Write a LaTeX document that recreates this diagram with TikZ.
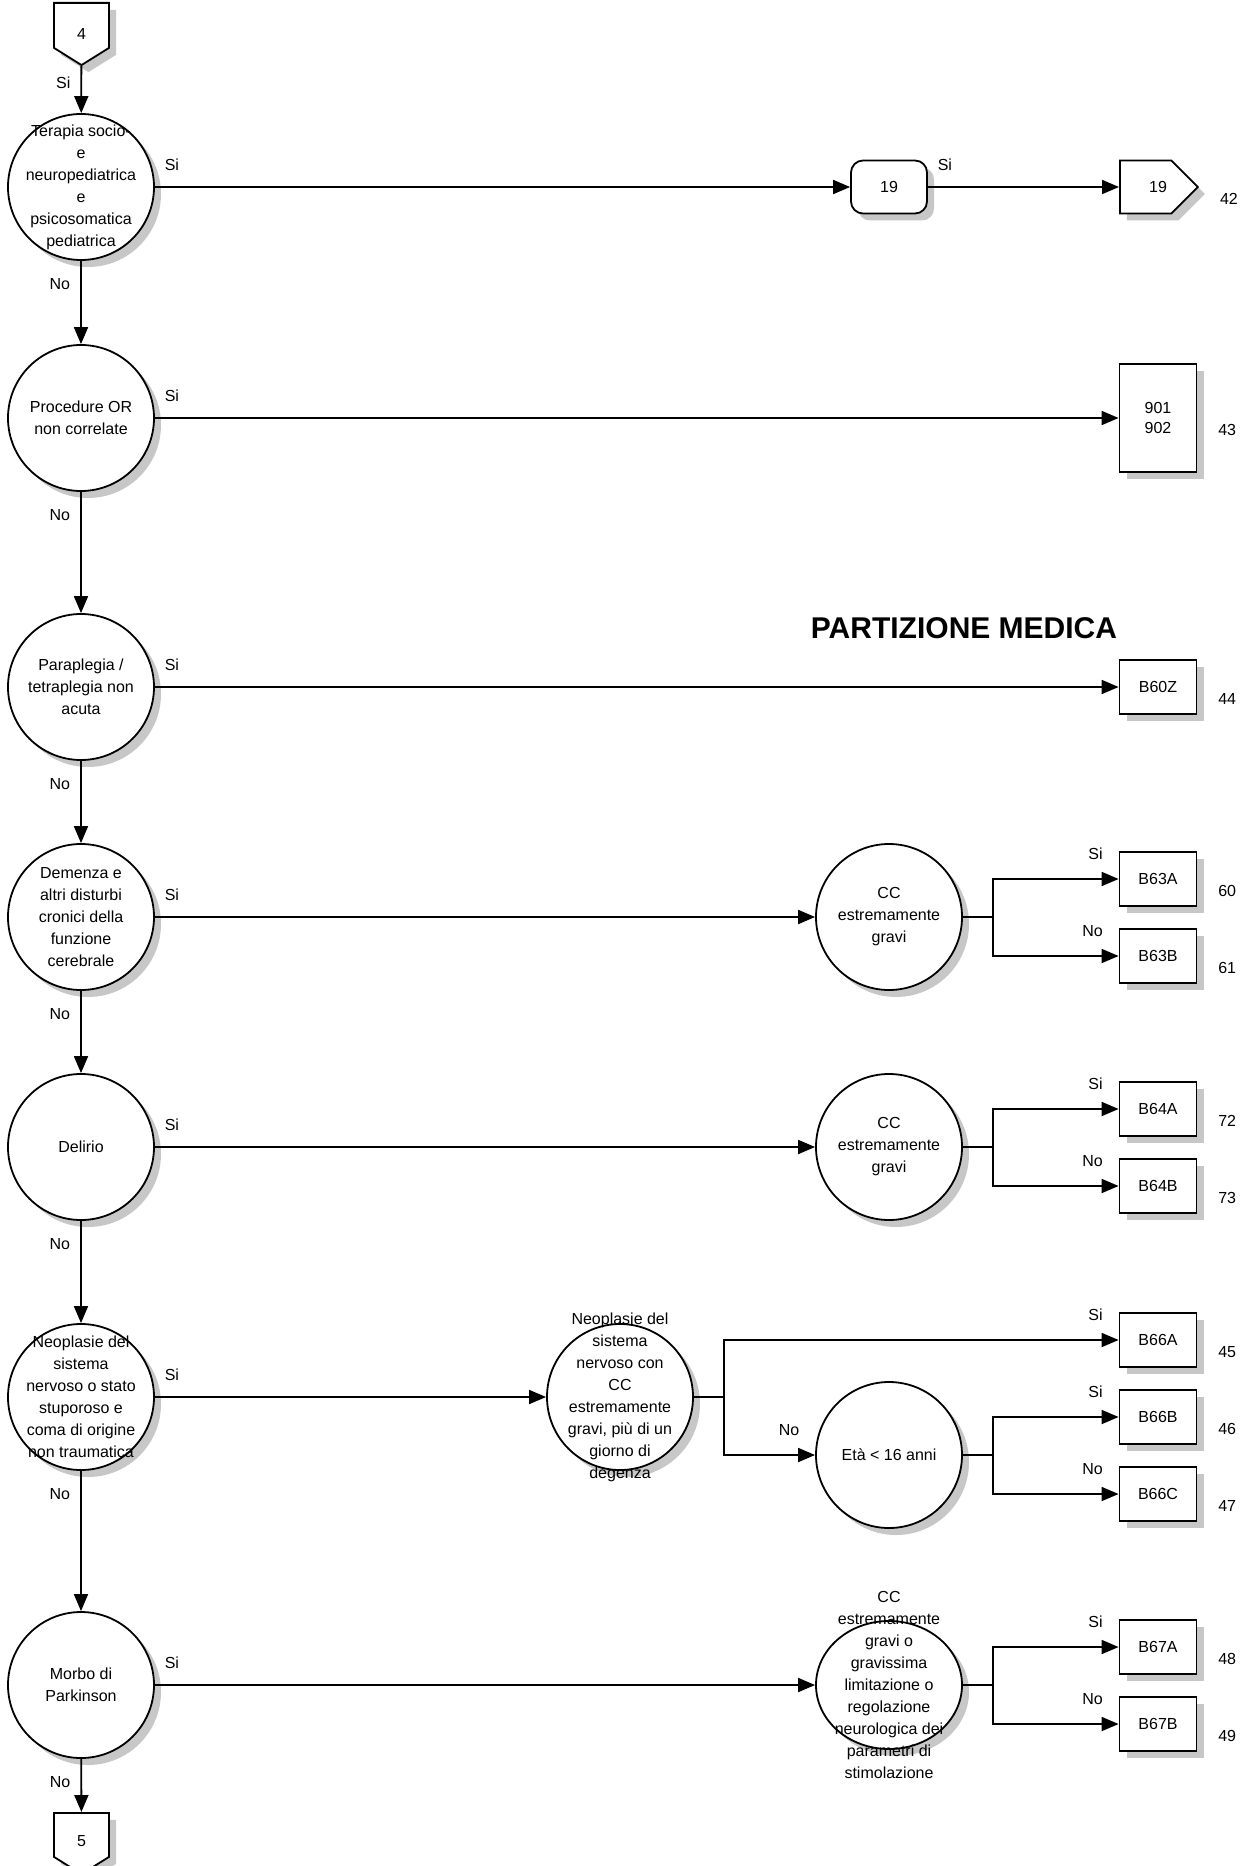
\documentclass[tikz,border=0pt]{standalone}
\usepackage{fontspec}
\setmainfont{Liberation Sans}
\usetikzlibrary{arrows.meta,positioning,shadows,shapes.geometric,shapes.symbols}

\begin{document}
\begin{tikzpicture}[
    x=0.5pt,y=-0.5pt,line width=0.9pt,
    font=\fontsize{8}{11}\selectfont,
    shadowed/.style={drop shadow={shadow xshift=3.5pt,shadow yshift=-3.5pt,fill=black!22,opacity=1}},
    test/.style={circle,draw,fill=white,minimum size=73pt,inner sep=0pt,shadowed},
    txt/.style={align=center,inner sep=0pt},
    drg/.style={rectangle,draw,fill=white,minimum width=38.5pt,minimum height=27pt,inner sep=0pt,align=center,shadowed},
    jump/.style={signal,draw,fill=white,inner sep=0pt,shadowed},
    arr/.style={-{Triangle[length=8.5pt,width=7pt,fill=black]}},
    vlbl/.style={pos=0,anchor=north east,inner sep=0pt,xshift=-5pt,yshift=-8.5pt},
    hlbl/.style={pos=0,anchor=south west,inner sep=0pt,xshift=4.5pt,yshift=7.5pt},
    blbl/.style={pos=1,anchor=south east,inner sep=0pt,xshift=-7.5pt,yshift=9pt},
    num/.style={inner sep=0pt,yshift=-6pt}]
  \useasboundingbox (0,0) rectangle (1252,1866);

  \node (p4) [jump,signal to=south,signal pointer angle=116,minimum width=27.5pt,minimum height=22.5pt,anchor=north] at (81.5,2) {};
  \node (p4txt) at (81.5,34) {4};
  \node (t1) [test] at (81,187) {};
  \node (t1txt) [txt] at (t1) {Terapia socio-\\e\\neuropediatrica\\e\\psicosomatica\\pediatrica};
  \node (t2) [test] at (81,418) {};
  \node (t2txt) [txt] at (t2) {Procedure OR\\non correlate};
  \node (t3) [test] at (81,687) {};
  \node (t3txt) [txt] at (t3) {Paraplegia /\\tetraplegia non\\acuta};
  \node (t4) [test] at (81,917) {};
  \node (t4txt) [txt] at (t4) {Demenza e\\altri disturbi\\cronici della\\funzione\\cerebrale};
  \node (t5) [test] at (81,1147) {};
  \node (t5txt) [txt] at (t5) {Delirio};
  \node (t6) [test] at (81,1397) {};
  \node (t6txt) [txt] at (t6) {Neoplasie del\\sistema\\nervoso o stato\\stuporoso e\\coma di origine\\non traumatica};
  \node (t7) [test] at (81,1685) {};
  \node (t7txt) [txt] at (t7) {Morbo di\\Parkinson};
  \node (p5) [jump,signal to=south,signal pointer angle=116,minimum width=27.5pt,minimum height=22pt,anchor=north] at (81.5,1812) {};
  \node (p5txt) at (81.5,1841) {5};

  \node (r19) [drg,rounded corners=6pt,minimum width=38pt,minimum height=26.5pt] at (889,187) {19};
  \node (p19) [jump,signal to=east,signal pointer angle=90,minimum width=39pt,minimum height=26.5pt,anchor=west] at (1119,187) {};
  \node (p19txt) at (1158,187) {19};
  \node (b43) [drg,minimum height=54pt,font=\fontsize{8}{10}\selectfont] at (1158,418) {901\\902};
  \node (partmed) at (964,628) {\fontsize{15}{18}\selectfont\bfseries PARTIZIONE MEDICA};
  \node (b60) [drg] at (1158,687) {B60Z};

  \node (cc4) [test] at (889,917) {};
  \node (cc4txt) [txt] at (cc4) {CC\\estremamente\\gravi};
  \node (b63a) [drg] at (1158,879) {B63A};
  \node (b63b) [drg] at (1158,956) {B63B};

  \node (cc5) [test] at (889,1147) {};
  \node (cc5txt) [txt] at (cc5) {CC\\estremamente\\gravi};
  \node (b64a) [drg] at (1158,1109) {B64A};
  \node (b64b) [drg] at (1158,1186) {B64B};

  \node (n6) [test] at (620,1397) {};
  \node (n6txt) [txt] at (n6) {Neoplasie del\\sistema\\nervoso con\\CC\\estremamente\\gravi, più di un\\giorno di\\degenza};
  \node (b66a) [drg] at (1158,1340) {B66A};
  \node (eta) [test] at (889,1455) {};
  \node (etatxt) [txt] at (eta) {Età < 16 anni};
  \node (b66b) [drg] at (1158,1417) {B66B};
  \node (b66c) [drg] at (1158,1494) {B66C};

  \node (cc7) [ellipse,draw,fill=white,minimum width=73pt,minimum height=64pt,inner sep=0pt,shadowed] at (889,1685) {};
  \node (cc7txt) [txt] at (cc7) {CC\\estremamente\\gravi o\\gravissima\\limitazione o\\regolazione\\neurologica dei\\parametri di\\stimolazione};
  \node (b67a) [drg] at (1158,1647) {B67A};
  \node (b67b) [drg] at (1158,1724) {B67B};

  \node (n42) [num,right=10pt of p19.east] {42};
  \node (n43) [num,right=10pt of b43.east] {43};
  \node (n44) [num,right=10pt of b60.east] {44};
  \node (n60) [num,right=10pt of b63a.east] {60};
  \node (n61) [num,right=10pt of b63b.east] {61};
  \node (n72) [num,right=10pt of b64a.east] {72};
  \node (n73) [num,right=10pt of b64b.east] {73};
  \node (n45) [num,right=10pt of b66a.east] {45};
  \node (n46) [num,right=10pt of b66b.east] {46};
  \node (n47) [num,right=10pt of b66c.east] {47};
  \node (n48) [num,right=10pt of b67a.east] {48};
  \node (n49) [num,right=10pt of b67b.east] {49};

  \draw[arr] (p4) -- node[vlbl,yshift=3.5pt] {Si} (t1);
  \draw[arr] (t1) -- node[hlbl] {Si} (r19);
  \draw[arr] (r19) -- node[hlbl] {Si} (p19);
  \draw[arr] (t1) -- node[vlbl] {No} (t2);
  \draw[arr] (t2) -- node[hlbl] {Si} (b43);
  \draw[arr] (t2) -- node[vlbl] {No} (t3);
  \draw[arr] (t3) -- node[hlbl] {Si} (b60);
  \draw[arr] (t3) -- node[vlbl] {No} (t4);
  \draw[arr] (t4) -- node[hlbl] {Si} (cc4);
  \draw[arr] (cc4.east) -- ++(30,0) |- node[blbl] {Si} (b63a);
  \draw[arr] (cc4.east) -- ++(30,0) |- node[blbl] {No} (b63b);
  \draw[arr] (t4) -- node[vlbl] {No} (t5);
  \draw[arr] (t5) -- node[hlbl] {Si} (cc5);
  \draw[arr] (cc5.east) -- ++(30,0) |- node[blbl] {Si} (b64a);
  \draw[arr] (cc5.east) -- ++(30,0) |- node[blbl] {No} (b64b);
  \draw[arr] (t5) -- node[vlbl] {No} (t6);
  \draw[arr] (t6) -- node[hlbl] {Si} (n6);
  \draw[arr] (n6.east) -- ++(30,0) |- node[blbl] {Si} (b66a);
  \draw[arr] (n6.east) -- ++(30,0) |- node[blbl] {No} (eta);
  \draw[arr] (eta.east) -- ++(30,0) |- node[blbl] {Si} (b66b);
  \draw[arr] (eta.east) -- ++(30,0) |- node[blbl] {No} (b66c);
  \draw[arr] (t6) -- node[vlbl] {No} (t7);
  \draw[arr] (t7) -- node[hlbl] {Si} (cc7);
  \draw[arr] (cc7.east) -- ++(30,0) |- node[blbl] {Si} (b67a);
  \draw[arr] (cc7.east) -- ++(30,0) |- node[blbl] {No} (b67b);
  \draw[arr] (t7) -- node[vlbl] {No} (p5);
\end{tikzpicture}
\end{document}
